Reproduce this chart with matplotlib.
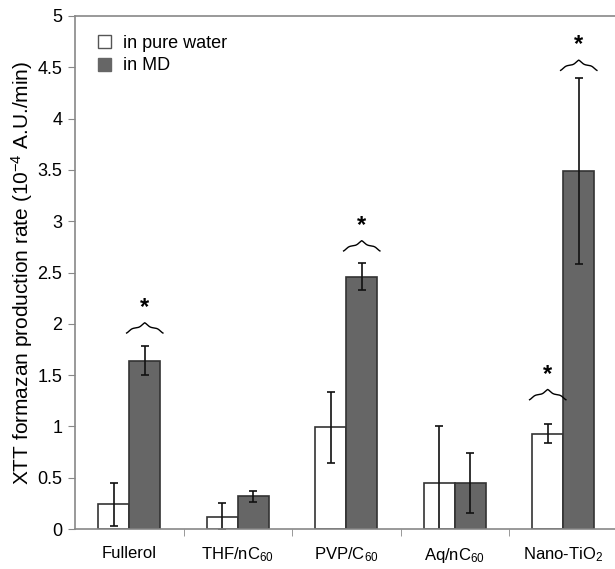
import numpy as np
import matplotlib.pyplot as plt
from matplotlib.patches import Patch

plt.rcParams['font.family'] = ['Liberation Sans', 'DejaVu Sans']
plt.rcParams['mathtext.fontset'] = 'custom'
plt.rcParams['mathtext.rm'] = 'Liberation Sans'
plt.rcParams['mathtext.it'] = 'Liberation Sans'

# dados
categorias = ['Fullerol', 'THF/nC$_{60}$', 'PVP/C$_{60}$', 'Aq/nC$_{60}$', 'Nano-TiO$_2$']
agua = [0.24, 0.12, 0.99, 0.45, 0.93]
agua_err = [0.21, 0.13, 0.35, 0.55, 0.09]
md = [1.64, 0.32, 2.46, 0.45, 3.49]
md_err = [0.14, 0.055, 0.13, 0.29, 0.91]

# asteriscos: grupo, serie (0=agua 1=MD), altura da base da chave
signif_grupo = [0, 2, 4, 4]
signif_serie = [1, 1, 0, 1]
signif_y = [1.91, 2.71, 1.26, 4.47]

x = np.arange(len(categorias))
w = 0.286

fig = plt.figure(figsize=(6.15, 5.69), dpi=100)
ax = fig.add_axes([75 / 615, 1 - 529 / 569, 540 / 615, 513 / 569])

ax.bar(x - w / 2, agua, w, color='white', edgecolor='#333333', linewidth=1.2,
       yerr=agua_err, capsize=3.2, error_kw=dict(elinewidth=1.2, capthick=1.2, ecolor='#111111'),
       label='in pure water')
ax.bar(x + w / 2, md, w, color='#666666', edgecolor='#333333', linewidth=1.2,
       yerr=md_err, capsize=3.2, error_kw=dict(elinewidth=1.2, capthick=1.2, ecolor='#111111'),
       label='in MD')


def chave(xc, yb, largura, altura):
    # chave horizontal com ponta para cima
    t = np.linspace(0, 0.5, 151)
    beta = 22.0
    y1 = 1 / (1 + np.exp(-beta * (t - 0.07))) + 1 / (1 + np.exp(-beta * (t - 0.43)))
    y1 = (y1 - y1.min()) / (y1.max() - y1.min())
    yy = np.concatenate([y1, y1[::-1]])
    xx = np.concatenate([t, 1 - t[::-1]])
    ax.plot(xc - largura / 2 + xx * largura, yb + yy * altura, color='black', lw=1.0)


for g, s, yb in zip(signif_grupo, signif_serie, signif_y):
    xc = x[g] - w / 2 if s == 0 else x[g] + w / 2
    chave(xc, yb, w * 1.17, 0.1)
    ax.text(xc, yb + 0.25, '*', ha='center', va='center', fontsize=17, fontweight='bold')

ax.set_xlim(-0.5, 4.5 - 2.5 / 108.5)
ax.set_ylim(0, 5)
ax.set_yticks(np.arange(0, 5.01, 0.5))
ax.set_yticklabels(['0', '0.5', '1', '1.5', '2', '2.5', '3', '3.5', '4', '4.5', '5'])
ax.set_xticks(x)
ax.set_xticklabels(categorias)
ax.set_xticks(np.arange(0.5, 4.5, 1), minor=True)
ax.tick_params(axis='x', which='major', length=0, pad=12, labelsize=12)
ax.tick_params(axis='x', which='minor', length=5, direction='out', color='#888888')
ax.tick_params(axis='y', length=5, direction='out', color='#888888', labelsize=13, pad=4)

for lado in ['left', 'bottom', 'top']:
    ax.spines[lado].set_color('#888888')
    ax.spines[lado].set_linewidth(1.2)
ax.spines['right'].set_visible(False)

ax.set_ylabel('XTT formazan production rate (10$^{-4}$ A.U./min)', fontsize=15, labelpad=2)

alcas = [Patch(facecolor='white', edgecolor='#555555', label='in pure water'),
         Patch(facecolor='#666666', edgecolor='#666666', label='in MD')]
fig.legend(handles=alcas, loc='upper left', frameon=False, fontsize=13,
           handlelength=0.72, handleheight=0.72, handletextpad=0.65, labelspacing=0.3,
           borderpad=0, borderaxespad=0, bbox_to_anchor=(98 / 615, 1 - 35 / 569),
           bbox_transform=fig.transFigure)

plt.savefig('out.png', dpi=100)
